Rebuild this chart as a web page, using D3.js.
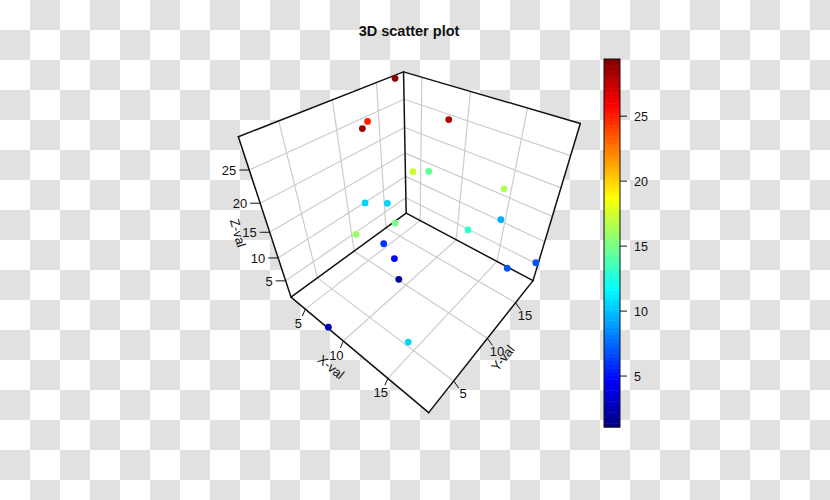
<!DOCTYPE html><html><head><meta charset="utf-8"><style>html,body{margin:0;background:#fff}svg{display:block}text{font-family:"Liberation Sans",Arial,sans-serif;fill:#111}</style></head><body><svg id="c" width="830" height="500"></svg>
<script src="https://cdn.jsdelivr.net/npm/d3@7"></script>
<script>
const chartTitle="3D scatter plot";
const xVals=[2.9,3.6,7.3,10.7,7.2,6.6,14.4,14.3,13.9,3.2,4.9,9.6,8.7,6.6,8.2,9.3,8.5,16.4,17.4,19.0];
const yVals=[17.4,12.9,8.8,14.6,14.6,17.8,18.4,19.2,13.7,12.0,13.4,9.3,5.8,10.8,10.5,9.8,1.65,2.7,15.2,17.5];
const zVals=[29,25,28.5,28,17.5,14.5,16.5,9.5,13,10.5,10.5,15,16,6,4.7,2,2.5,10.5,7,7];
const xTicks=[5,10,15], yTicks=[5,10,15], zTicks=[5,10,15,20,25], keyTicks=[5,10,15,20,25];
const xDomain=[2.9,18.95], yDomain=[1.83,18.58], zDomain=[1.08,29.4];
const jetStops=["#00007F","#0000FF","#007FFF","#00FFFF","#7FFF7F","#FFFF00","#FF7F00","#FF0000","#7F0000"];
// fitted perspective camera: maps the unit cube to the page
const camera=[40.74586,225.50376,-123.77845,290.98995,22.24424,-25.97774,-201.14735,297.0717,-0.22619,0.27162,-0.29845];

const svg=d3.select("#c");
const W=830,H=500,cell=30;
const defs=svg.append("defs");
const pat=defs.append("pattern").attr("id","chk").attr("width",cell*2).attr("height",cell*2).attr("patternUnits","userSpaceOnUse");
pat.append("rect").attr("width",cell*2).attr("height",cell*2).attr("fill","#fff");
pat.append("rect").attr("x",cell).attr("width",cell).attr("height",cell).attr("fill","#e1e1e1");
pat.append("rect").attr("y",cell).attr("width",cell).attr("height",cell).attr("fill","#e1e1e1");
svg.append("rect").attr("width",W).attr("height",H).attr("fill","url(#chk)");

const ux=d3.scaleLinear().domain(xDomain).range([0,1]);
const uy=d3.scaleLinear().domain(yDomain).range([0,1]);
const uz=d3.scaleLinear().domain(zDomain).range([0,1]);
const m=camera;
const proj=(u,v,w)=>{const d=m[8]*u+m[9]*v+m[10]*w+1;return[(m[0]*u+m[1]*v+m[2]*w+m[3])/d,(m[4]*u+m[5]*v+m[6]*w+m[7])/d]};
const line=d3.line();
const seg=(a,b)=>line([proj(...a),proj(...b)]);

// white silhouette of the box
svg.append("path").attr("fill","#fff")
  .attr("d",line([[0,0,0],[1,0,0],[1,1,0],[1,1,1],[0,1,1],[0,0,1]].map(p=>proj(...p)))+"Z");

// grid
const grid=svg.append("g").attr("fill","none").attr("stroke","#cccccc").attr("stroke-width",1.2);
xTicks.forEach(t=>{const u=ux(t);
  grid.append("path").attr("d",seg([u,0,0],[u,1,0]));
  grid.append("path").attr("d",seg([u,1,0],[u,1,1]));});
yTicks.forEach(t=>{const v=uy(t);
  grid.append("path").attr("d",seg([0,v,0],[1,v,0]));
  grid.append("path").attr("d",seg([0,v,0],[0,v,1]));});
zTicks.forEach(t=>{const w=uz(t);
  grid.append("path").attr("d",seg([0,0,w],[0,1,w]));
  grid.append("path").attr("d",seg([0,1,w],[1,1,w]));});

// box edges
const edges=[[[0,0,0],[1,0,0]],[[1,0,0],[1,1,0]],[[0,0,0],[0,1,0]],[[0,1,0],[1,1,0]],[[0,0,0],[0,0,1]],[[0,1,0],[0,1,1]],[[1,1,0],[1,1,1]],[[0,0,1],[0,1,1]],[[0,1,1],[1,1,1]]];
svg.append("g").attr("fill","none").attr("stroke","#111").attr("stroke-width",1.5).attr("stroke-linecap","round")
  .selectAll("path").data(edges).join("path").attr("d",d=>seg(d[0],d[1]));

// colour scale
const jet=d3.scaleLinear().domain(d3.range(9).map(i=>zDomain[0]+(zDomain[1]-zDomain[0])*i/8)).range(jetStops).interpolate(d3.interpolateRgb);

// points
const rows=xVals.map((x,i)=>({x,y:yVals[i],z:zVals[i]}));
svg.append("g").attr("transform","translate(0,0.5)").selectAll("circle").data(rows).join("circle")
  .attr("cx",d=>proj(ux(d.x),uy(d.y),uz(d.z))[0])
  .attr("cy",d=>proj(ux(d.x),uy(d.y),uz(d.z))[1])
  .attr("r",3.4).attr("fill",d=>jet(d.z));

// axis ticks and labels
const axes=svg.append("g");
const tick=(p,dx,dy,lx,ly,label,anchor)=>{
  axes.append("line").attr("x1",p[0]).attr("y1",p[1]).attr("x2",p[0]+dx).attr("y2",p[1]+dy).attr("stroke","#111").attr("stroke-width",1);
  axes.append("text").attr("x",p[0]+lx).attr("y",p[1]+ly).attr("text-anchor",anchor).attr("dominant-baseline","central").attr("font-size",13).text(label);
};
xTicks.forEach(t=>tick(proj(ux(t),0,0),-3,7,-7,14.5,t,"middle"));
yTicks.forEach(t=>tick(proj(1,uy(t),0),5,7,9.5,13,t,"middle"));
zTicks.forEach(t=>tick(proj(0,0,uz(t)),-10,0,-13,0.5,t,"end"));
const axisLabel=(txt,x,y,a)=>axes.append("text").attr("transform",`translate(${x},${y}) rotate(${a})`).attr("text-anchor","middle").attr("dominant-baseline","central").attr("font-size",13).text(txt);
axisLabel("X-val",331,367,40);
axisLabel("Y-val",503,358,-51);
axisLabel("Z-val",238,233,74);

// title
svg.append("text").attr("x",409).attr("y",31).attr("text-anchor","middle").attr("dominant-baseline","central").attr("font-size",14.5).attr("font-weight","bold").text(chartTitle);

// colour key
const keyY=d3.scaleLinear().domain(zDomain).range([427,59]);
const keyX=604,keyW=16,levels=d3.range(100);
const key=svg.append("g");
key.selectAll("rect").data(levels).join("rect")
  .attr("x",keyX).attr("width",keyW)
  .attr("y",i=>keyY(zDomain[0]+(zDomain[1]-zDomain[0])*(i+1)/100))
  .attr("height",(427-59)/100+0.5)
  .attr("fill",i=>jet(zDomain[0]+(zDomain[1]-zDomain[0])*(i+0.5)/100));
key.append("rect").attr("x",keyX).attr("y",59).attr("width",keyW).attr("height",368).attr("fill","none").attr("stroke","#111").attr("stroke-width",1);
keyTicks.forEach(t=>{
  key.append("line").attr("x1",keyX+keyW).attr("x2",keyX+keyW+7).attr("y1",keyY(t)).attr("y2",keyY(t)).attr("stroke","#111");
  key.append("text").attr("x",634).attr("y",keyY(t)+0.5).attr("dominant-baseline","central").attr("font-size",12.5).text(t);
});
</script></body></html>
